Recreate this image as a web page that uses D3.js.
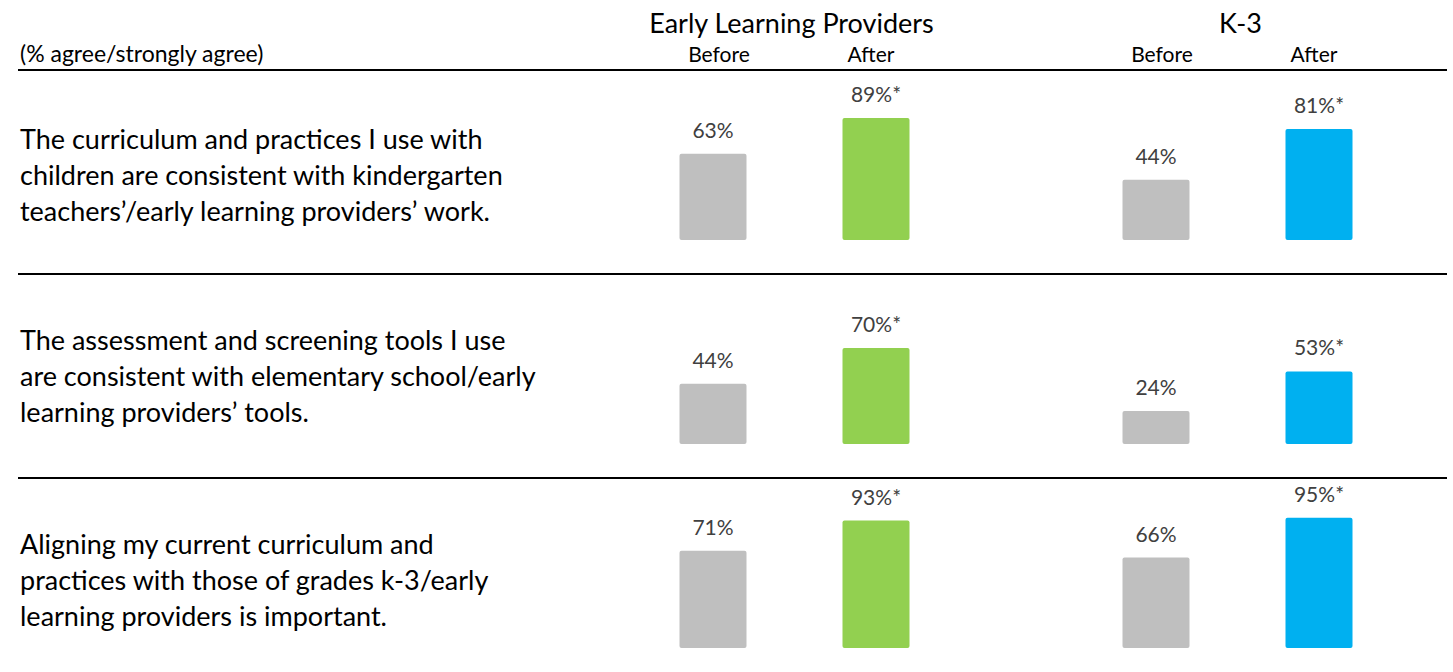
<!DOCTYPE html>
<html>
<head>
<meta charset="utf-8">
<script src="https://cdn.jsdelivr.net/npm/d3@7"></script>
<style>
  body { margin: 0; background: #fff; }
  svg { display: block; font-family: Lato, "Open Sans", sans-serif; }
</style>
</head>
<body>
<svg id="chart"></svg>
<script>
const width = 1453,
    height = 672;

// data
const groups = ["Early Learning Providers", "K-3"];
const periods = ["Before", "After"];
const statements = [
    ["The curriculum and practices I use with", "children are consistent with kindergarten", "teachers’/early learning providers’ work."],
    ["The assessment and screening tools I use", "are consistent with elementary school/early", "learning providers’ tools."],
    ["Aligning my current curriculum and", "practices with those of grades k-3/early", "learning providers is important."],
];
const elpBefore = [63, 44, 71];
const elpAfter = [89, 70, 93];
const k3Before = [44, 24, 66];
const k3After = [81, 53, 95];
const significant = [true, true, true];

const afterColors = { "Early Learning Providers": "#92D050", "K-3": "#00B0F0" };
const beforeColor = "#BFBFBF";

const cells = [];
statements.forEach((s, i) => {
    cells.push({ row: i, group: groups[0], period: "Before", value: elpBefore[i] });
    cells.push({ row: i, group: groups[0], period: "After", value: elpAfter[i] });
    cells.push({ row: i, group: groups[1], period: "Before", value: k3Before[i] });
    cells.push({ row: i, group: groups[1], period: "After", value: k3After[i] });
});

const svg = d3.select("#chart").attr("width", width).attr("height", height);

const groupScale = d3.scalePoint().domain(groups).range([713, 1156]);
const periodScale = d3.scalePoint().domain(periods).range([0, 163]);
const rowScale = d3.scalePoint().domain(d3.range(statements.length)).range([240, 648]);
const hScale = d3.scaleLinear().domain([0, 100]).range([0, 137]);
const barWidth = 67;

const cx = (d) => groupScale(d.group) + periodScale(d.period);

// header
svg.selectAll(".group-title")
    .data(groups)
    .enter()
    .append("text")
    .attr("class", "group-title")
    .attr("x", (g) => groupScale(g) + periodScale.range()[1] / 2 + (g === "K-3" ? 3 : -3))
    .attr("y", 33)
    .attr("text-anchor", "middle")
    .attr("font-size", 27)
    .attr("fill", "#000")
    .text((g) => g);

groups.forEach((g) => {
    svg.selectAll(null)
        .data(periods)
        .enter()
        .append("text")
        .attr("x", (p) => groupScale(g) + periodScale(p) + (p === "Before" ? 6 : -5))
        .attr("y", 62)
        .attr("text-anchor", "middle")
        .attr("font-size", 21)
        .attr("fill", "#000")
        .text((p) => p);
});

svg.append("text")
    .attr("x", 20)
    .attr("y", 62)
    .attr("font-size", 23)
    .attr("fill", "#000")
    .text("(% agree/strongly agree)");

// rule lines
const ruleYs = [70].concat(d3.range(statements.length - 1).map((i) => rowScale(i) + 34));
svg.selectAll(".rule")
    .data(ruleYs)
    .enter()
    .append("line")
    .attr("class", "rule")
    .attr("x1", 18)
    .attr("x2", 1447)
    .attr("y1", (d) => d)
    .attr("y2", (d) => d)
    .attr("stroke", "#000")
    .attr("stroke-width", 2);

// statement labels
statements.forEach((lines, i) => {
    svg.append("text")
        .attr("x", 20)
        .attr("font-size", 27)
        .attr("fill", "#000")
        .selectAll("tspan")
        .data(lines)
        .enter()
        .append("tspan")
        .attr("x", 20)
        .attr("y", (l, j) => rowScale(i) - (i === 0 ? 91 : 94) + j * 36)
        .text((l) => l);
});

// bars
svg.selectAll(".bar")
    .data(cells)
    .enter()
    .append("rect")
    .attr("class", "bar")
    .attr("x", (d) => cx(d) - barWidth / 2)
    .attr("y", (d) => rowScale(d.row) - hScale(d.value))
    .attr("width", barWidth)
    .attr("height", (d) => hScale(d.value))
    .attr("rx", 2)
    .attr("fill", (d) => (d.period === "Before" ? beforeColor : afterColors[d.group]));

// value labels
svg.selectAll(".val")
    .data(cells)
    .enter()
    .append("text")
    .attr("class", "val")
    .attr("x", (d) => cx(d))
    .attr("y", (d) => rowScale(d.row) - hScale(d.value) - 16)
    .attr("text-anchor", "middle")
    .attr("font-size", 21)
    .attr("fill", "#404040")
    .text((d) => d.value + "%" + (d.period === "After" && significant[d.row] ? "*" : ""));
</script>
</body>
</html>
